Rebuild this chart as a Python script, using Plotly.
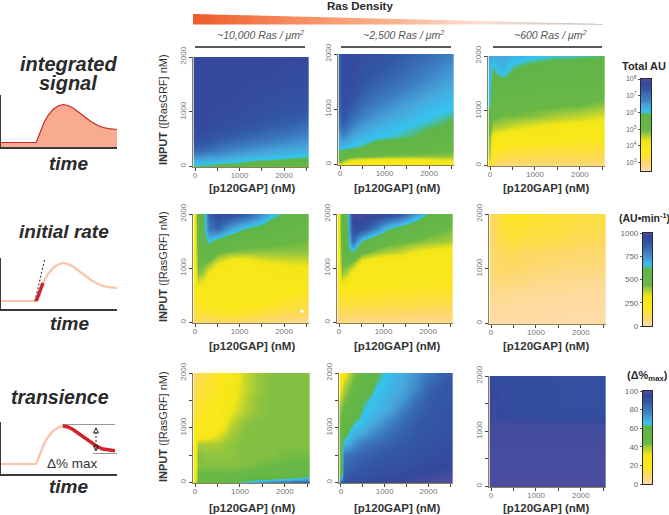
import numpy as np
import plotly.graph_objects as go

W, H = 669, 515

# Shared grid of the maps
gap_nM = [0, 60, 200, 300, 500, 800, 1100, 1400, 1700, 2000, 2300, 2600]
rasgrf_nM = [0, 50, 150, 300, 500, 700, 900, 1100, 1300, 1500, 1750, 2000]

# Map values (fraction of the colour bar), rows bottom to top
total_high = [
    [.62,.62,.62,.62,.58,.56,.55,.5,.5,.48,.47,.46],
    [.65,.65,.64,.64,.63,.62,.61,.59,.58,.57,.56,.55],
    [.72,.72,.72,.71,.71,.69,.67,.66,.65,.64,.63,.62],
    [.84,.84,.83,.82,.8,.77,.75,.73,.71,.7,.69,.68],
    [.92,.92,.91,.9,.88,.86,.84,.82,.8,.78,.76,.74],
    [.94,.94,.94,.93,.92,.91,.89,.88,.86,.85,.83,.8],
    [.95,.95,.95,.94,.94,.93,.92,.91,.9,.89,.88,.86],
    [.95,.95,.95,.95,.94,.94,.93,.93,.92,.91,.9,.89],
    [.95,.95,.95,.95,.95,.94,.94,.93,.93,.92,.92,.91],
    [.95,.95,.95,.95,.95,.95,.94,.94,.94,.93,.93,.92],
    [.95,.95,.95,.95,.95,.95,.95,.94,.94,.94,.93,.93],
    [.95,.95,.95,.95,.95,.95,.95,.95,.94,.94,.94,.93],
]
total_mid = [
    [.3,.25,.22,.2,.18,.18,.18,.19,.2,.22,.24,.26],
    [.42,.38,.3,.26,.23,.22,.22,.23,.24,.26,.28,.3],
    [.56,.52,.48,.46,.45,.44,.42,.41,.41,.41,.41,.41],
    [.66,.65,.64,.63,.62,.58,.56,.54,.52,.5,.47,.45],
    [.72,.76,.72,.69,.67,.65,.64,.63,.62,.6,.57,.54],
    [.8,.86,.8,.76,.72,.69,.67,.65,.64,.63,.62,.6],
    [.84,.9,.86,.83,.78,.74,.71,.69,.67,.65,.64,.63],
    [.85,.92,.9,.87,.83,.79,.76,.72,.7,.68,.66,.65],
    [.86,.93,.92,.9,.86,.83,.8,.77,.74,.71,.69,.67],
    [.87,.94,.93,.92,.89,.86,.84,.81,.78,.75,.72,.7],
    [.87,.94,.94,.93,.91,.89,.87,.85,.82,.79,.76,.73],
    [.87,.94,.94,.94,.92,.91,.89,.87,.85,.83,.8,.77],
]
total_low = [
    [.25,.08,.05,.04,.04,.04,.04,.04,.04,.04,.04,.04],
    [.3,.12,.1,.09,.08,.08,.08,.08,.08,.08,.08,.08],
    [.38,.16,.15,.14,.13,.12,.12,.12,.12,.12,.12,.12],
    [.4,.2,.19,.18,.17,.17,.16,.16,.16,.16,.16,.16],
    [.42,.28,.27,.26,.25,.23,.23,.22,.21,.2,.2,.2],
    [.46,.39,.38,.37,.35,.33,.31,.3,.29,.28,.27,.26],
    [.6,.45,.44,.43,.43,.42,.41,.39,.38,.37,.35,.34],
    [.64,.5,.48,.47,.47,.46,.45,.45,.44,.44,.42,.41],
    [.66,.55,.53,.52,.51,.5,.5,.5,.49,.48,.47,.46],
    [.67,.58,.59,.6,.57,.55,.54,.54,.53,.53,.52,.5],
    [.68,.62,.66,.67,.62,.6,.585,.575,.57,.565,.56,.55],
    [.7,.69,.7,.7,.68,.66,.65,.64,.64,.635,.63,.62],
]
rate_high = [
    [.06,.06,.05,.05,.06,.07,.06,.05,.05,.04,.03,.03],
    [.1,.1,.1,.1,.11,.12,.11,.09,.08,.07,.06,.05],
    [.14,.15,.16,.16,.18,.18,.17,.15,.13,.12,.11,.1],
    [.16,.18,.19,.2,.2,.2,.2,.19,.18,.16,.15,.14],
    [.17,.2,.22,.22,.22,.21,.21,.21,.21,.2,.18,.17],
    [.18,.32,.28,.24,.22,.21,.21,.22,.23,.23,.22,.2],
    [.19,.42,.38,.3,.24,.22,.22,.23,.26,.28,.28,.26],
    [.2,.46,.44,.41,.33,.27,.26,.3,.32,.33,.34,.34],
    [.21,.5,.52,.54,.45,.42,.41,.41,.41,.41,.41,.41],
    [.22,.52,.58,.66,.58,.52,.49,.47,.46,.45,.44,.43],
    [.22,.54,.6,.8,.85,.72,.64,.6,.56,.52,.5,.48],
    [.23,.56,.6,.85,.94,.92,.88,.78,.67,.62,.58,.56],
]
rate_mid = [
    [.04,.04,.03,.03,.03,.03,.03,.03,.03,.03,.03,.03],
    [.06,.07,.07,.06,.06,.06,.06,.06,.05,.05,.05,.05],
    [.1,.1,.1,.1,.09,.09,.09,.08,.08,.08,.08,.08],
    [.14,.14,.15,.14,.14,.14,.13,.13,.13,.12,.12,.12],
    [.16,.18,.18,.18,.18,.17,.17,.17,.17,.16,.16,.16],
    [.18,.3,.24,.21,.2,.2,.2,.19,.19,.19,.19,.18],
    [.19,.4,.36,.28,.22,.21,.21,.21,.2,.2,.2,.2],
    [.2,.46,.44,.41,.28,.24,.23,.22,.22,.21,.21,.21],
    [.21,.52,.6,.62,.46,.41,.38,.36,.32,.3,.28,.27],
    [.22,.54,.62,.84,.63,.52,.47,.45,.43,.41,.4,.38],
    [.23,.56,.63,.93,.93,.8,.65,.58,.52,.47,.45,.42],
    [.24,.58,.64,.97,.98,.97,.94,.87,.74,.62,.55,.5],
]
rate_low = [
    [.01,.01,.01,.01,.01,.01,.01,.01,.01,.01,.01,.01],
    [.01,.01,.01,.01,.01,.01,.01,.01,.01,.01,.01,.01],
    [.015,.015,.015,.015,.015,.015,.015,.015,.01,.01,.01,.01],
    [.02,.02,.025,.025,.02,.02,.02,.015,.015,.015,.015,.015],
    [.03,.04,.04,.04,.03,.03,.03,.02,.02,.02,.02,.02],
    [.04,.05,.06,.06,.05,.05,.04,.04,.04,.03,.03,.03],
    [.05,.07,.08,.08,.08,.07,.06,.06,.05,.05,.05,.05],
    [.06,.08,.09,.1,.1,.09,.08,.08,.07,.07,.07,.07],
    [.06,.09,.1,.11,.11,.1,.1,.09,.09,.08,.08,.08],
    [.07,.1,.13,.14,.15,.14,.13,.13,.12,.11,.11,.1],
    [.08,.1,.14,.16,.17,.16,.15,.15,.14,.13,.13,.12],
    [.08,.1,.15,.18,.19,.18,.17,.16,.15,.15,.14,.14],
]
trans_high = [
    [.4,.45,.46,.47,.52,.64,.68,.74,.82,.88,.92,.94],
    [.25,.45,.46,.47,.47,.5,.6,.64,.66,.68,.72,.75],
    [.2,.44,.44,.44,.44,.44,.45,.46,.47,.48,.5,.56],
    [.2,.42,.42,.42,.42,.42,.42,.43,.44,.44,.45,.45],
    [.2,.42,.41,.41,.41,.41,.42,.42,.42,.43,.43,.43],
    [.22,.39,.39,.39,.39,.41,.42,.42,.42,.42,.42,.42],
    [.2,.23,.24,.27,.32,.39,.42,.42,.42,.42,.42,.42],
    [.18,.19,.2,.21,.24,.36,.41,.42,.42,.42,.42,.42],
    [.16,.17,.18,.19,.21,.32,.38,.41,.42,.42,.42,.42],
    [.14,.16,.17,.18,.2,.3,.37,.41,.42,.42,.42,.42],
    [.11,.14,.16,.17,.19,.28,.36,.4,.42,.42,.42,.42],
    [.08,.11,.14,.16,.18,.27,.36,.4,.42,.42,.42,.42],
]
trans_mid = [
    [.9,.92,.93,.94,.95,.96,.97,.98,.98,.99,1,1],
    [.72,.88,.9,.91,.93,.94,.95,.96,.97,.98,.99,1],
    [.5,.86,.88,.89,.9,.92,.93,.94,.95,.96,.97,.98],
    [.5,.84,.85,.86,.88,.9,.91,.92,.93,.94,.95,.95],
    [.5,.8,.82,.84,.85,.87,.89,.9,.91,.92,.93,.94],
    [.5,.68,.7,.74,.8,.83,.86,.88,.9,.91,.92,.93],
    [.48,.57,.65,.68,.7,.77,.82,.86,.88,.9,.91,.92],
    [.44,.5,.58,.63,.66,.7,.77,.83,.87,.89,.9,.91],
    [.42,.46,.5,.55,.64,.67,.7,.79,.85,.88,.9,.91],
    [.38,.42,.46,.52,.62,.66,.69,.73,.82,.87,.89,.9],
    [.3,.38,.42,.45,.55,.64,.67,.7,.76,.85,.88,.9],
    [.22,.3,.38,.42,.47,.61,.66,.69,.74,.8,.85,.88],
]
trans_low = [
    [.99,.99,.99,.99,.99,.99,.99,.99,.99,.99,.99,.99],
    [.99,.99,.99,.99,.99,.99,.99,.99,.99,.99,.99,.99],
    [.99,.99,.99,.99,.99,.99,.99,.99,.99,.99,.99,.99],
    [.985,.985,.985,.985,.985,.985,.985,.985,.985,.985,.985,.985],
    [.985,.985,.985,.985,.985,.985,.985,.985,.985,.985,.985,.985],
    [.98,.98,.98,.98,.98,.98,.98,.98,.98,.98,.98,.98],
    [.98,.98,.98,.98,.98,.98,.98,.98,.98,.98,.98,.98],
    [.975,.98,.975,.975,.975,.975,.975,.975,.975,.975,.975,.975],
    [.94,.975,.94,.94,.935,.935,.935,.93,.93,.93,.93,.93],
    [.94,.97,.94,.935,.935,.93,.93,.93,.925,.925,.925,.925],
    [.935,.96,.935,.935,.93,.93,.93,.93,.925,.925,.92,.92],
    [.935,.935,.935,.93,.93,.93,.93,.925,.925,.92,.92,.92],
]

# Schematic time course
curve_time = [0, 35, 36, 38, 40, 43, 47, 52, 57, 62, 67, 72, 78, 84, 90, 96, 102, 108, 116]
curve_signal = [0, 0, 2, 7, 13, 20, 27, 33, 36.5, 38, 37, 34.5, 30, 25.5, 21, 17.5, 15, 13.8, 13]
rate_time = [35, 36, 38, 40, 42]
rate_signal = [0, 2, 7, 13, 18]
tangent_time = [34, 44]
tangent_signal = [0, 43]
decay_time = [62, 67, 72, 78, 84, 90, 96, 102, 108, 114]
decay_signal = [38, 37, 34.5, 30, 25.5, 21, 17.5, 15, 13.8, 13.2]

column_titles = ["~10,000 Ras / μm<sup>2</sup>", "~2,500 Ras / μm<sup>2</sup>", "~600 Ras / μm<sup>2</sup>"]
total_ticks = [3, 4, 5, 6, 7, 8]
total_ticklabels = ["10<sup>%d</sup>" % i for i in total_ticks]
rate_ticks = [0, 250, 500, 750, 1000]
trans_ticks = [0, 20, 40, 60, 80, 100]

colors = [
    [0, "#fddcae"], [.1, "#fdd860"], [.2, "#fbe81a"], [.32, "#f2e618"], [.4, "#9cc83c"],
    [.44, "#68b846"], [.62, "#60b547"], [.645, "#35c4ee"], [.7, "#47a8dd"], [.78, "#3d80c3"],
    [.88, "#3359a8"], [.95, "#34489c"], [1, "#514fa0"],
]

FONT = "Liberation Sans"
INK = "#2a2a2a"
fig = go.Figure()
axis_no = [0]


def new_axes(x0, x1, y0, y1, xa, ya):
    axis_no[0] += 1
    n = axis_no[0]
    s = "" if n == 1 else str(n)
    fig.layout["xaxis" + s] = dict(domain=[x0 / W, x1 / W], anchor="y" + s, **xa)
    fig.layout["yaxis" + s] = dict(domain=[1 - y1 / H, 1 - y0 / H], anchor="x" + s, **ya)
    return "x" + s, "y" + s


panels = [
    (total_high, 193, 309, 57, 167, False), (total_mid, 338, 454, 54, 165, False), (total_low, 488, 605, 56, 166, False),
    (rate_high, 193, 309, 214, 323, False), (rate_mid, 337, 453, 214, 323, False), (rate_low, 489, 606, 214, 324, False),
    (trans_high, 193, 310, 373, 483, True), (trans_mid, 339, 453, 373, 483, True), (trans_low, 489, 606, 376, 487, True),
]
tick = dict(size=8, color="#777777", family=FONT)
for z, x0, x1, y0, y1, minor_y in panels:
    xa = dict(range=[-45, 2560], tickvals=[0, 500, 1000, 1500, 2000, 2500],
              ticktext=["0", "", "1000", "", "2000", ""], ticks="outside", ticklen=3, tickwidth=1,
              tickcolor="#444", tickfont=tick, ticklabelstandoff=-3, showgrid=False, zeroline=False, showline=True,
              linecolor="#8a7f55", linewidth=1)
    yv = [0, 500, 1000, 1500, 2000] if minor_y else [0, 1000, 2000]
    yt = ["0", "", "1000", "", "2000"] if minor_y else ["0", "1000", "2000"]
    ya = dict(range=[-8, 2000], tickvals=yv, ticktext=yt, ticks="outside", ticklen=3, tickwidth=1,
              tickcolor="#444", tickfont=tick, tickangle=-90, showgrid=False, zeroline=False,
              showline=True, linecolor="#8a7f55", linewidth=1)
    ax, ay = new_axes(x0, x1, y0, y1, xa, ya)
    fig.add_trace(go.Heatmap(x=gap_nM, y=rasgrf_nM, z=z, zmin=0, zmax=1, colorscale=colors,
                             showscale=False, zsmooth="best", xaxis=ax, yaxis=ay, hoverinfo="skip"))
    if z is rate_high:
        fig.add_trace(go.Scatter(x=[2400], y=[207], mode="markers", xaxis=ax, yaxis=ay,
                                 marker=dict(color="#ffffff", size=3.5), hoverinfo="skip"))

# Colour bars
levels = np.linspace(0, 1, 101)
bars = [
    (641, 651, 79, 171, levels * 5.5 + 2.5, [2.5, 8], total_ticks, total_ticklabels, 7),
    (643, 652, 233, 326, levels * 1000, [0, 1000], rate_ticks, [str(t) for t in rate_ticks], 8),
    (643, 652, 391, 484, levels * 100, [0, 100], trans_ticks, [str(t) for t in trans_ticks], 8),
]
for x0, x1, y0, y1, yy, rng, tv, tt, fs in bars:
    xa = dict(range=[0, 1], showticklabels=False, ticks="", showgrid=False, zeroline=False,
              showline=True, mirror=True, linecolor="#2a2a2a", linewidth=1.2)
    ya = dict(range=rng, tickvals=tv, ticktext=tt, ticks="outside", ticklen=2, tickwidth=1, tickcolor="#555",
              tickfont=dict(size=fs, color="#666666", family=FONT), showgrid=False, zeroline=False,
              showline=True, mirror=True, linecolor="#2a2a2a", linewidth=1.2)
    ax, ay = new_axes(x0, x1, y0, y1, xa, ya)
    fig.add_trace(go.Heatmap(x=[0, 1], y=yy, z=[[v, v] for v in levels], zmin=0, zmax=1, colorscale=colors,
                             showscale=False, xaxis=ax, yaxis=ay, hoverinfo="skip"))

# Schematics
signal = np.array(curve_signal)
peach, red = "#f9c3a8", "#d1232a"


def schematic(top, base_line):
    h = base_line - top
    xa = dict(range=[0, 116], showticklabels=False, ticks="", showgrid=False, zeroline=False,
              showline=True, linecolor="#3a3a3a", linewidth=1.5)
    ya = dict(range=[0, h], showticklabels=False, ticks="", showgrid=False, zeroline=False,
              showline=True, linecolor="#3a3a3a", linewidth=1.5)
    return new_axes(1, 117, top, base_line, xa, ya)


ax, ay = schematic(95, 147)
fig.add_trace(go.Scatter(x=curve_time, y=signal + 4.5, mode="lines", fill="tozeroy", fillcolor="#f9ab8f",
                         line=dict(color="#c9262c", width=1.2), xaxis=ax, yaxis=ay, hoverinfo="skip"))

ax, ay = schematic(258, 309)
fig.add_trace(go.Scatter(x=curve_time, y=signal + 8, mode="lines", line=dict(color=peach, width=2.2),
                         xaxis=ax, yaxis=ay, hoverinfo="skip"))
fig.add_trace(go.Scatter(x=tangent_time, y=np.array(tangent_signal) + 8, mode="lines",
                         line=dict(color="#222", width=1, dash="2px,2px"), xaxis=ax, yaxis=ay, hoverinfo="skip"))
fig.add_trace(go.Scatter(x=rate_time, y=np.array(rate_signal) + 8, mode="lines", line=dict(color=red, width=3.5),
                         xaxis=ax, yaxis=ay, hoverinfo="skip"))

ax, ay = schematic(422, 474)
fig.add_trace(go.Scatter(x=curve_time[:11], y=signal[:11] + 10, mode="lines", line=dict(color=peach, width=2.2),
                         xaxis=ax, yaxis=ay, hoverinfo="skip"))
fig.add_trace(go.Scatter(x=[61, 114], y=[49.5, 49.5], mode="lines", line=dict(color="#999", width=1),
                         xaxis=ax, yaxis=ay, hoverinfo="skip"))
fig.add_trace(go.Scatter(x=[92, 116], y=[20.5, 20.5], mode="lines", line=dict(color="#999", width=1),
                         xaxis=ax, yaxis=ay, hoverinfo="skip"))
fig.add_trace(go.Scatter(x=decay_time, y=np.array(decay_signal) + 10, mode="lines", line=dict(color=red, width=3.5),
                         xaxis=ax, yaxis=ay, hoverinfo="skip"))
fig.add_trace(go.Scatter(x=[95, 95], y=[46, 23], mode="lines", line=dict(color="#222", width=1, dash="2px,2px"),
                         xaxis=ax, yaxis=ay, hoverinfo="skip"))
fig.add_trace(go.Scatter(x=[95, 95], y=[46, 23], mode="markers",
                         marker=dict(symbol=["arrow-up-open", "arrow-down-open"], size=5, color="#222",
                                     line=dict(color="#222", width=1)),
                         xaxis=ax, yaxis=ay, hoverinfo="skip"))

# Text
notes = []


def T(x, y, text, size, color=INK, angle=0):
    notes.append(dict(x=x / W, y=1 - y / H, xref="paper", yref="paper", text=text, showarrow=False,
                      xanchor="center", yanchor="middle", textangle=angle, align="center",
                      font=dict(family=FONT, size=size, color=color)))


T(360, 6, "<b>Ras Density</b>", 11.5)
for x, t in zip([260, 403, 550], column_titles):
    T(x, 35, "<i>%s</i>" % t, 10.5, "#555555")
for y in [188, 346, 508]:
    for x in [252, 397, 546]:
        T(x, y, "<b>[p120GAP] (nM)</b>", 11.5, "#333333")
for y in [110, 267, 427]:
    T(163, y, "<b>INPUT</b> ([RasGRF] nM)", 11, "#333333", -90)
T(68, 64, "<b><i>integrated</i></b>", 20)
T(68, 83, "<b><i>signal</i></b>", 20)
T(64, 231, "<b><i>initial rate</i></b>", 19)
T(60, 397, "<b><i>transience</i></b>", 19.5)
for y, x in [(163, 69), (323, 70), (486, 69)]:
    T(x, y, "<b><i>time</i></b>", 19)
T(72, 463, "Δ% max", 13.5, "#333333")
T(644, 66, "<b>Total AU</b>", 11)
T(644, 217, "<b>(AU•min<sup>-1</sup>)</b>", 10.5)
T(647, 376, "<b>(Δ%<sub>max</sub>)</b>", 11)

# Wedge and column rules (decoration)
shapes = []
ramp_stops = [(193, (240, 90, 40)), (290, (246, 138, 94)), (390, (249, 178, 142)), (480, (252, 224, 208)), (560, (215, 205, 195)), (603, (150, 150, 145))]
edges = np.linspace(193, 603, 83)
for a, b in zip(edges[:-1], edges[1:]):
    m = (a + b) / 2
    r, g, bl = [np.interp(m, [s[0] for s in ramp_stops], [s[1][i] for s in ramp_stops]) for i in range(3)]
    ta, tb = [14 + (v - 193) / 410 * 10 for v in (a, b)]
    path = "M %.4f %.4f L %.4f %.4f L %.4f %.4f L %.4f %.4f Z" % (a / W, 1 - ta / H, b / W, 1 - tb / H, b / W, 1 - 24.5 / H, a / W, 1 - 24.5 / H)
    shapes.append(dict(type="path", path=path, xref="paper", yref="paper", fillcolor="rgb(%d,%d,%d)" % (r, g, bl), line=dict(width=0)))
for a, b in [(195, 305), (341, 451), (493, 602)]:
    shapes.append(dict(type="line", x0=a / W, x1=b / W, y0=1 - 47 / H, y1=1 - 47 / H, xref="paper", yref="paper",
                       line=dict(color="#222222", width=1.5)))

fig.update_layout(width=W, height=H, autosize=False, margin=dict(l=0, r=0, t=0, b=0, autoexpand=False), showlegend=False,
                  plot_bgcolor="white", paper_bgcolor="white", annotations=notes, shapes=shapes,
                  font=dict(family=FONT))
fig.write_html("out.html", config={"displayModeBar": False},
               post_script="document.body.style.margin='0';document.body.style.overflow='hidden';"
                           "var d=document.querySelector('.plotly-graph-div');d.style.position='absolute';"
                           "d.style.left='0';d.style.top='0';")
